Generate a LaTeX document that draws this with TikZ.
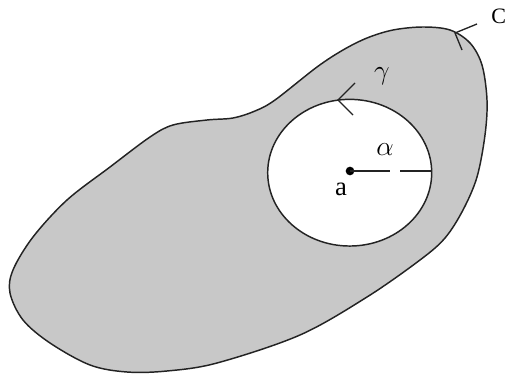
\documentclass[tikz,border=0pt]{standalone}
\usepackage{fontspec}
\setmainfont{Liberation Serif}
\definecolor{regiongray}{RGB}{200,200,200}
\definecolor{inkline}{RGB}{35,35,35}
\begin{document}
\begin{tikzpicture}[x=0.75pt,y=-0.75pt,
  contour/.style={draw=inkline,line width=1.1pt,line join=round},
  tick/.style={draw=inkline,line width=1pt},
  lbl/.style={inner sep=0pt,anchor=base,text=black}]
\useasboundingbox (0,0) rectangle (513,374);
% outer region C
\path[contour,fill=regiongray] plot[smooth cycle,tension=0.55] coordinates {
 (423,27) (450,30) (470,43) (482,65) (487,100) (485,135) (477,177) (463,210)
 (445,238) (420,260) (367,297) (300,335) (217,363) (167,371) (127,372) (90,365)
 (50,343) (23,320) (10,293) (13,270) (33,237) (67,200) (110,167) (150,137)
 (173,125) (207,120) (233,118) (255,111) (275,100) (317,67) (343,50) (367,38) (393,30)};
% inner disc gamma
\path[contour,fill=white] (349.7,172.7) ellipse [x radius=61.5pt, y radius=55pt];
% centre point
\node[circle,fill=black,inner sep=0pt,minimum size=6.5pt] (a) at (350,171) {};
\coordinate (r1) at (390,171);
\coordinate (r2) at (400,171);
\coordinate (r3) at (431.5,171);
\draw[tick] (a.center) -- (r1);
\draw[tick] (r2) -- (r3);
% orientation marks
\coordinate (cA) at (477,24);
\coordinate (cB) at (455,33);
\coordinate (cC) at (462,50);
\draw[tick] (cA) -- (cB) -- (cC);
\coordinate (gA) at (355,83);
\coordinate (gB) at (338,100);
\coordinate (gC) at (353,115);
\draw[tick] (gA) -- (gB) -- (gC);
% labels
\node[lbl,anchor=base west,font=\fontsize{16.5pt}{19pt}\selectfont] (C) at (491,24) {C};
\node[lbl,font=\fontsize{20pt}{23pt}\selectfont] (alab) at (341,195) {a};
\node[lbl,font=\fontsize{22pt}{25pt}\selectfont] (alpha) at (385,155) {$\alpha$};
\node[lbl,font=\fontsize{22pt}{25pt}\selectfont] (gamma) at (382,80) {$\gamma$};
\end{tikzpicture}
\end{document}
